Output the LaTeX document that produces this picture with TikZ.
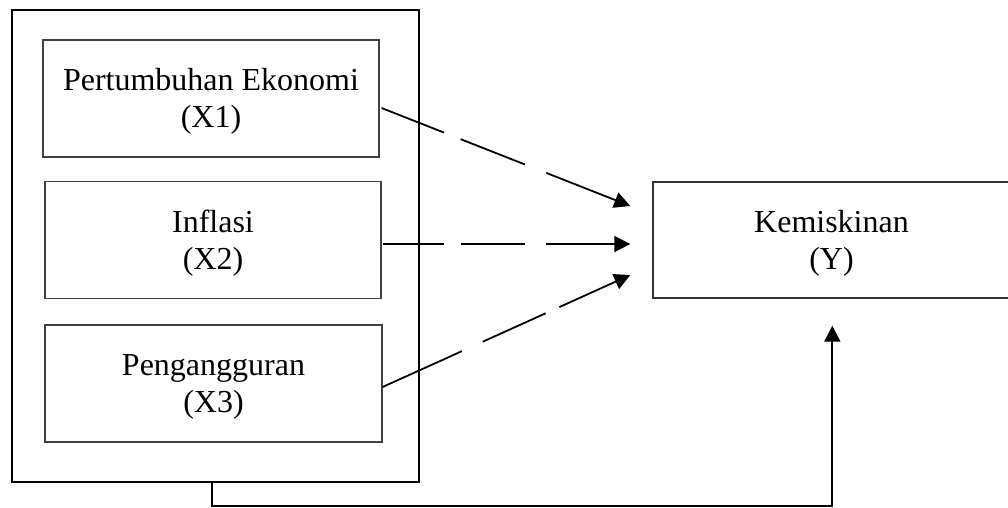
\documentclass[tikz,border=0pt]{standalone}
\usepackage{fontspec}
\setmainfont{Liberation Serif}
\usetikzlibrary{arrows.meta,calc}
% invisible strut that lowers a two-line label a little inside its box
\newcommand\vlift{\rule{0pt}{28pt}}
\begin{document}
\begin{tikzpicture}[x=1pt,y=-1pt,
  varbox/.style={draw=black!75,line width=1.2pt,minimum width=336pt,minimum height=117pt,
    inner sep=0pt,align=center,font=\fontsize{32}{37}\selectfont},
  link/.style={line width=1.8pt,-{Triangle[length=16pt,width=16pt]}}]
\useasboundingbox (0,0) rectangle (1008,507);
\clip (0,0) rectangle (1008,507);
\fill[white] (0,0) rectangle (1008,507);

% grouping frame around the independent variables
\node[draw,line width=1.8pt,minimum width=407pt,minimum height=472pt,inner sep=0pt] (grp) at (215.5,246) {};

% independent variables
\node[varbox] (x1) at (211,98.5) {\vlift Pertumbuhan Ekonomi\\(X1)};
\node[varbox] (x2) at (213,240) {\vlift Inflasi\\(X2)};
\node[varbox,minimum width=337pt] (x3) at (213.5,383.5) {\vlift Pengangguran\\(X3)};

% dependent variable (box runs past the right edge)
\node[varbox,draw=black!80,line width=1.4pt,minimum width=357pt,minimum height=116pt] (y) at (831.5,240) {\vlift Kemiskinan\\(Y)};

% end points of the partial effects
\coordinate (t1) at ($(y.west)+(-22,-34)$);
\coordinate (t2) at ($(y.west)+(-22,4)$);
\coordinate (t3) at ($(y.west)+(-22,35)$);
\coordinate (t4) at ($(y.south west)+(180,27)$);

\draw[link,dash pattern=on 67pt off 18pt on 69pt off 23pt on 300pt] ($(x1.east)+(2,9.5)$) -- (t1);
\draw[link,dash pattern=on 61pt off 17pt on 64pt off 21pt on 300pt] ($(x2.east)+(1,4)$) -- (t2);
\draw[link,dash pattern=on 87pt off 23pt on 69pt off 15pt on 300pt] ($(x3.east)+(0,3.5)$) -- (t3);

% simultaneous effect of the group
\coordinate (g1) at ($(grp.south west)+(201,23)$);
\draw[line width=1.8pt,-{Triangle[length=16pt,width=16pt]}]
  ($(grp.south west)+(201,0)$) -- (g1) -| (t4);
\end{tikzpicture}
\end{document}
